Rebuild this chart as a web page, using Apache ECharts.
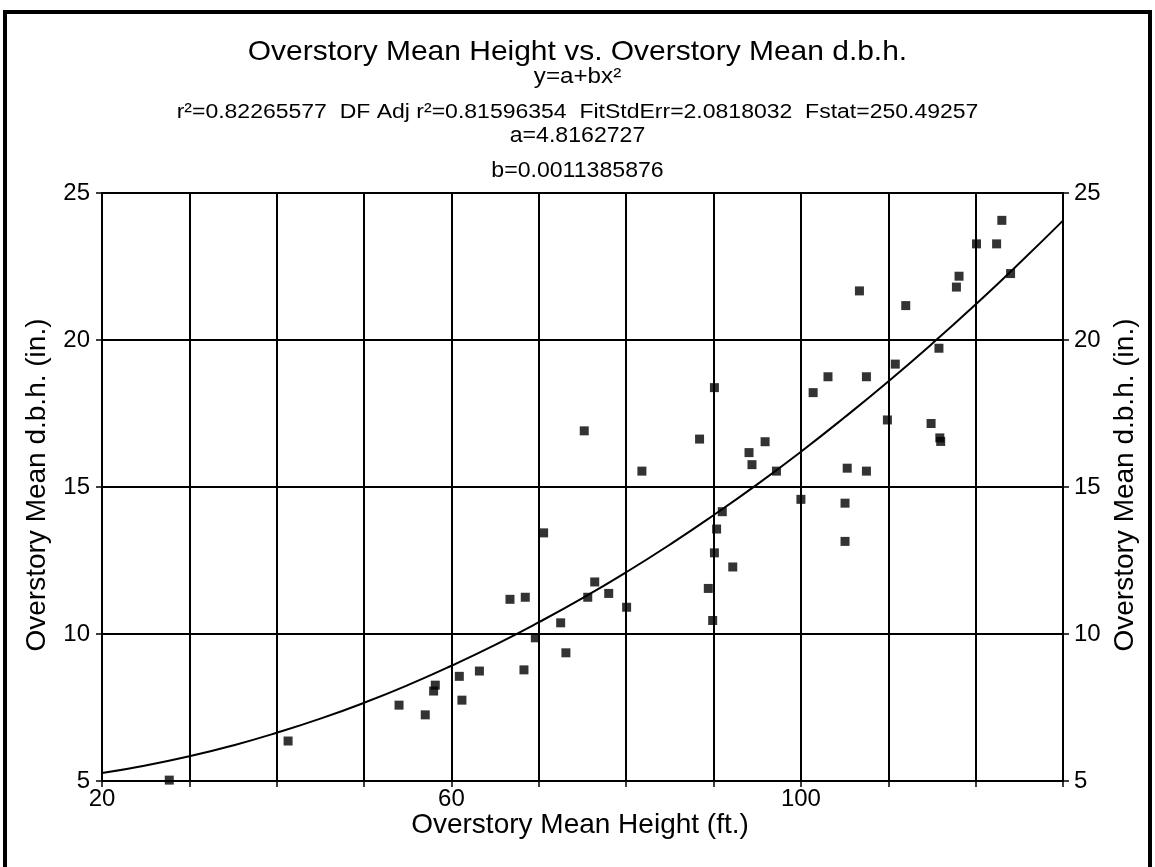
<!DOCTYPE html>
<html>
<head>
<meta charset="utf-8">
<script src="https://cdn.jsdelivr.net/npm/echarts@6/dist/echarts.min.js"></script>
<style>
html,body{margin:0;padding:0;background:#fff;}
#c{width:1155px;height:867px;}
</style>
</head>
<body>
<div id="c"></div>
<script>
// ---- data ----
const heights = [27.7, 41.3, 54.0, 57.0, 57.96, 58.15, 60.9, 61.2, 63.2, 66.7,
  68.45, 68.3, 69.6, 70.55, 72.5, 73.1, 75.2, 75.6, 76.4, 78.0,
  80.05, 81.8, 88.4, 89.4, 89.9, 90.1, 90.35, 91.0, 90.1, 92.2,
  94.06, 94.4, 95.9, 97.2, 100.0, 101.4, 103.1, 105.05, 105.05, 105.3,
  106.7, 107.5, 107.5, 109.9, 110.8, 112.0, 114.9, 115.8, 115.9, 116.0,
  117.8, 118.1, 120.1, 122.4, 123.0, 124.0];
const dbh = [5.03, 6.36, 7.58, 7.25, 8.06, 8.26, 8.56, 7.75, 8.74, 11.18,
  11.25, 8.78, 9.87, 13.44, 10.38, 9.36, 16.91, 11.25, 11.77, 11.38,
  10.91, 15.54, 16.63, 11.55, 10.46, 12.76, 13.57, 14.16, 18.38, 12.28,
  16.17, 15.76, 16.54, 15.54, 14.58, 18.21, 18.75, 14.45, 13.15, 15.64,
  21.67, 18.75, 15.54, 17.28, 19.18, 21.17, 17.16, 19.72, 16.67, 16.55,
  21.8, 22.17, 23.27, 23.27, 24.07, 22.26];
// fitted curve
const fitX = [20, 25, 30, 35, 40, 45, 50, 55, 60, 65, 70, 75, 80, 85, 90, 95, 100, 105, 110, 115, 120, 125, 130];
const fitY = [5.27, 5.53, 5.84, 6.21, 6.64, 7.12, 7.66, 8.26, 8.92, 9.63, 10.40, 11.22, 12.10, 13.04, 14.04, 15.09, 16.20, 17.37, 18.59, 19.87, 21.21, 22.61, 24.06];
const xTickLabels = [20, 60, 100];
const yTickLabels = [5, 10, 15, 20, 25];
const titleLines = [
  'Overstory Mean Height vs. Overstory Mean d.b.h.',
  'y=a+bx²',
  'r²=0.82265577  DF Adj r²=0.81596354  FitStdErr=2.0818032  Fstat=250.49257',
  'a=4.8162727',
  'b=0.0011385876'
];
const xName = 'Overstory Mean Height (ft.)';
const yName = 'Overstory Mean d.b.h. (in.)';

const FONT = '"Liberation Sans", Arial, sans-serif';
const chart = echarts.init(document.getElementById('c'), null, {renderer: 'canvas'});

const scatterData = heights.map((h, i) => [h, dbh[i]]);
const fitData = fitX.map((x, i) => [x, fitY[i]]);

const titleSizes = [28, 22, 20, 22, 22];
const titleScaleX = [1.07, 1.1, 1.15, 1.05, 1.05];
const titleY = [52, 77, 112, 136, 171];
const graphics = titleLines.map((t, i) => ({
  type: 'text', x: 577.5, y: titleY[i], scaleX: titleScaleX[i], silent: true,
  style: {text: t, fill: '#000', font: titleSizes[i] + 'px ' + FONT, align: 'center', verticalAlign: 'middle'}
}));
graphics.push(
  {type: 'text', x: 580, y: 825, silent: true,
   style: {text: xName, fill: '#000', font: '28px ' + FONT, align: 'center', verticalAlign: 'middle'}},
  {type: 'text', x: 37, y: 485, rotation: Math.PI / 2, silent: true,
   style: {text: yName, fill: '#000', font: '28px ' + FONT, align: 'center', verticalAlign: 'middle'}},
  {type: 'text', x: 1125, y: 485, rotation: Math.PI / 2, silent: true,
   style: {text: yName, fill: '#000', font: '28px ' + FONT, align: 'center', verticalAlign: 'middle'}},
  // page frame
  {type: 'rect', silent: true, shape: {x: 5, y: 12, width: 1145, height: 900},
   style: {fill: 'none', stroke: '#000', lineWidth: 4}}
);

const axisCommon = {
  axisLine: {show: true, lineStyle: {color: '#000', width: 2}},
  axisTick: {show: true, inside: false, length: 6, lineStyle: {color: '#000', width: 1.5}},
  axisLabel: {color: '#000', fontFamily: FONT, fontSize: 24}
};

chart.setOption({
  backgroundColor: '#fff',
  animation: false,
  grid: {left: 102, right: 92, top: 193, bottom: 86, show: true, borderColor: '#000', borderWidth: 2, backgroundColor: 'transparent'},
  xAxis: Object.assign({}, axisCommon, {
    type: 'value', min: 20, max: 130, interval: 10,
    splitLine: {show: true, lineStyle: {color: '#000', width: 2}},
    axisLabel: Object.assign({}, axisCommon.axisLabel, {margin: 6,
      formatter: v => xTickLabels.indexOf(v) >= 0 ? String(v) : ''})
  }),
  yAxis: [
    Object.assign({}, axisCommon, {
      type: 'value', min: 5, max: 25, interval: 5, position: 'left',
      splitLine: {show: true, lineStyle: {color: '#000', width: 2}},
      axisLabel: Object.assign({}, axisCommon.axisLabel, {margin: 12,
        formatter: v => yTickLabels.indexOf(v) >= 0 ? String(v) : ''})
    }),
    Object.assign({}, axisCommon, {
      type: 'value', min: 5, max: 25, interval: 5, position: 'right',
      splitLine: {show: false},
      axisLabel: Object.assign({}, axisCommon.axisLabel, {margin: 11,
        formatter: v => yTickLabels.indexOf(v) >= 0 ? String(v) : ''})
    })
  ],
  series: [
    {type: 'line', data: fitData, smooth: true, showSymbol: false, symbol: 'none',
     lineStyle: {color: '#000', width: 2}, z: 3, silent: true},
    {type: 'scatter', data: scatterData, symbol: 'rect', symbolSize: 9,
     itemStyle: {color: '#000'}, z: 4, silent: true}
  ],
  graphic: graphics
});
</script>
</body>
</html>
